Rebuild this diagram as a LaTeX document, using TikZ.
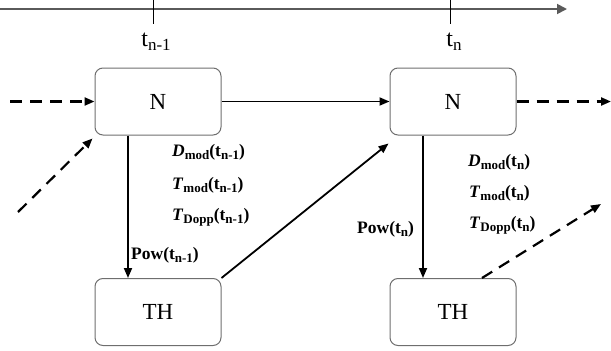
\documentclass[tikz,border=0pt]{standalone}
\usepackage{fontspec}
\setmainfont{Liberation Serif}
\usetikzlibrary{arrows.meta}
\definecolor{boxgray}{HTML}{6E6E6E}
\definecolor{axisgray}{HTML}{5A5A5A}
% lowered, smaller text for subscripts
\newcommand{\lowpart}[2]{\raisebox{-0.35ex}{\fontsize{#1}{#1}\selectfont #2}}

\begin{document}
\begin{tikzpicture}[x=1pt,y={(0pt,-1pt)},
  box/.style={draw=boxgray, line width=1pt, rounded corners=8pt,
    minimum width=126pt, minimum height=67pt, inner sep=0pt,
    font=\fontsize{23}{23}\selectfont},
  flow/.style={draw=black, line width=1.8pt, -{Triangle[length=10pt,width=8pt]}},
  dashflow/.style={draw=black, line width=2.2pt, dash pattern=on 12pt off 8pt,
    -{Triangle[length=10pt,width=8pt]}},
  lbl/.style={anchor=west, inner sep=0pt, font=\fontsize{17.5}{17.5}\selectfont\bfseries},
  tlbl/.style={inner sep=0pt, font=\fontsize{24}{24}\selectfont},
  tick/.style={draw=black, line width=1pt},
]
\useasboundingbox (0,0) rectangle (611,351);

% time axis
\coordinate (t0) at (0,9);
\coordinate (t1) at (567,9);
\draw[draw=axisgray, line width=1.8pt, -{Triangle[length=10pt,width=10pt]}, color=axisgray] (t0) -- (t1);
\coordinate (k1a) at (153,0);
\coordinate (k1b) at (153,24);
\coordinate (k2a) at (450,0);
\coordinate (k2b) at (450,24);
\draw[tick] (k1a) -- (k1b);
\draw[tick] (k2a) -- (k2b);
\node[tlbl] (tn1) at (156,42) {t\lowpart{17}{n-1}};
\node[tlbl] (tn) at (454,42) {t\lowpart{17}{n}};

% state boxes
\node[box] (N1) at (158,101.5) {N};
\node[box] (N2) at (453,101.5) {N};
\node[box] (TH1) at (158,312) {TH};
\node[box] (TH2) at (453,312) {TH};

% free ends of the incoming and outgoing links
\coordinate (inL) at (10,101.5);
\coordinate (inD) at (18,212);
\coordinate (outR) at (611,101.5);
\coordinate (outD) at (601,204);

% links
\draw[dashflow] (inL) -- (N1.west);
\draw[dashflow] (inD) -- ([shift={(-2,3)}]N1.south west);
\draw[flow] (N1.east) -- (N2.west);
\draw[dashflow] (N2.east) -- (outR);
\draw[flow] ([xshift=-30pt]N1.south) -- ([xshift=-30pt]TH1.north);
\draw[flow] ([xshift=-30pt]N2.south) -- ([xshift=-30pt]TH2.north);
\draw[flow] (TH1.north east) -- ([shift={(-1,8)}]N2.south west);
\draw[dashflow] ([xshift=29pt]TH2.north) -- (outD);

% transmitted quantities
\node[lbl] (d1) at (172,152) {\textit{D}\lowpart{13}{mod}(t\lowpart{13}{n-1})};
\node[lbl] (m1) at (172,185) {\textit{T}\lowpart{13}{mod}(t\lowpart{13}{n-1})};
\node[lbl] (p1) at (172,217) {\textit{T}\lowpart{13}{Dopp}(t\lowpart{13}{n-1})};
\node[lbl] (w1) at (131,255) {Pow(t\lowpart{13}{n-1})};
\node[lbl] (d2) at (468,162) {\textit{D}\lowpart{13}{mod}(t\lowpart{13}{n})};
\node[lbl] (m2) at (469,193) {\textit{T}\lowpart{13}{mod}(t\lowpart{13}{n})};
\node[lbl] (p2) at (469,225) {\textit{T}\lowpart{13}{Dopp}(t\lowpart{13}{n})};
\node[lbl] (w2) at (357,229) {Pow(t\lowpart{13}{n})};
\end{tikzpicture}
\end{document}
